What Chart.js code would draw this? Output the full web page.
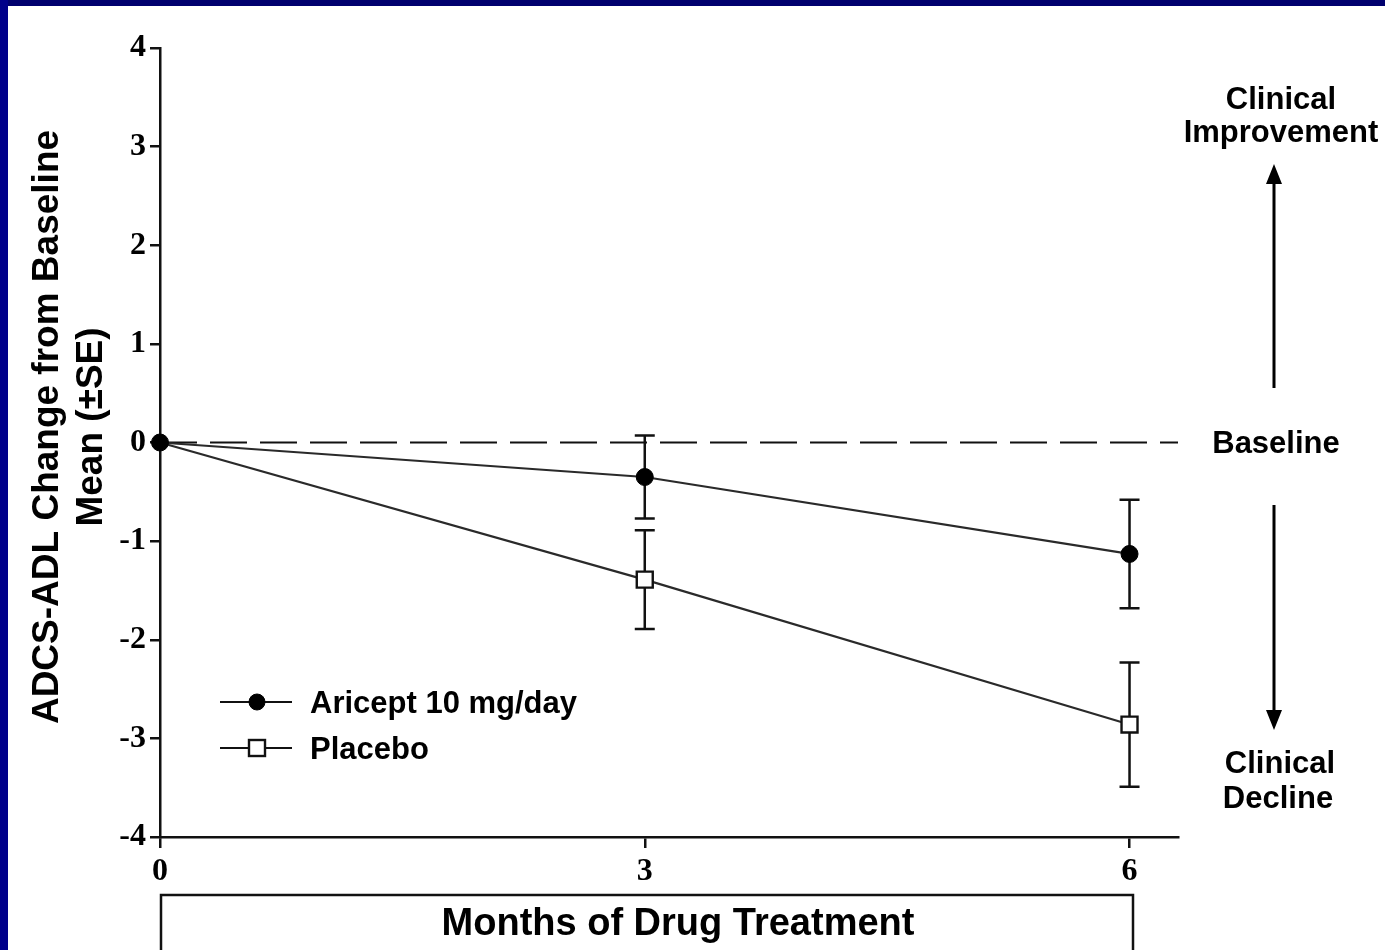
<!DOCTYPE html>
<html>
<head>
<meta charset="utf-8">
<script src="https://cdn.jsdelivr.net/npm/chart.js@4.4.1/dist/chart.umd.min.js"></script>
<style>
  html, body { margin: 0; padding: 0; background: #fff; }
  #wrap { position: relative; width: 1385px; height: 950px; overflow: hidden; background: #fff; }
  #topband { position: absolute; left: 0; top: 0; width: 1385px; height: 6px; background: #00006e; }
  #leftband { position: absolute; left: 0; top: 0; width: 8px; height: 950px; background: #00008a; }
  canvas { position: absolute; left: 0; top: 0; }
</style>
</head>
<body>
<div id="wrap">
  <canvas id="c" width="1385" height="950"></canvas>
  <div id="topband"></div>
  <div id="leftband"></div>
</div>
<script>
// ---- data ----
const months = [0, 3, 6];
const xTickValues = [0, 3, 6];
const yTickMin = -4;
const yTickMax = 4;
const aricept = [0, -0.35, -1.13];
const arieptSE = [0, 0.42, 0.55];
const placebo = [0, -1.39, -2.86];
const placeboSE = [0, 0.50, 0.63];
const seriesNames = ['Aricept 10 mg/day', 'Placebo'];
const yTitle = ['ADCS-ADL Change from Baseline', 'Mean (\u00B1SE)'];
const xTitle = 'Months of Drug Treatment';
const rightLabelsTop = ['Clinical', 'Improvement'];
const rightLabelMid = 'Baseline';
const rightLabelsBottom = ['Clinical', 'Decline'];

const INK = '#000';
const SANS = '"Liberation Sans", Arial, sans-serif';
const SERIF = '"Liberation Serif", "Times New Roman", serif';

function pts(vals) { return months.map((m, i) => ({ x: m, y: vals[i] })); }

const errorBars = {
  id: 'errorBars',
  beforeDatasetsDraw(chart) {
    const ctx = chart.ctx, xs = chart.scales.x, ys = chart.scales.y;
    const sets = [[aricept, arieptSE], [placebo, placeboSE]];
    ctx.save();
    ctx.strokeStyle = '#111';
    ctx.lineWidth = 2.5;
    sets.forEach(([v, se]) => {
      months.forEach((m, i) => {
        if (!se[i]) return;
        const px = xs.getPixelForValue(m);
        const top = ys.getPixelForValue(v[i] + se[i]);
        const bot = ys.getPixelForValue(v[i] - se[i]);
        ctx.beginPath();
        ctx.moveTo(px, top); ctx.lineTo(px, bot);
        ctx.moveTo(px - 10, top); ctx.lineTo(px + 10, top);
        ctx.moveTo(px - 10, bot); ctx.lineTo(px + 10, bot);
        ctx.stroke();
      });
    });
    ctx.restore();
  }
};

const annotations = {
  id: 'annotations',
  afterDraw(chart) {
    const ctx = chart.ctx, ys = chart.scales.y;
    ctx.save();
    ctx.fillStyle = INK;
    // y title
    ctx.save();
    ctx.translate(48, 427);
    ctx.rotate(-Math.PI / 2);
    ctx.font = 'bold 37px ' + SANS;
    ctx.textAlign = 'center';
    ctx.textBaseline = 'middle';
    ctx.fillText(yTitle[0], 0, 0);
    ctx.fillText(yTitle[1], 0, 44);
    ctx.restore();

    // right labels
    ctx.font = 'bold 31px ' + SANS;
    ctx.textAlign = 'center';
    ctx.textBaseline = 'middle';
    ctx.fillText(rightLabelsTop[0], 1281, 100);
    ctx.fillText(rightLabelsTop[1], 1281, 133);
    ctx.fillText(rightLabelMid, 1276, ys.getPixelForValue(0) + 2);
    ctx.fillText(rightLabelsBottom[0], 1280, 764);
    ctx.fillText(rightLabelsBottom[1], 1278, 799);

    // arrows
    ctx.strokeStyle = INK;
    ctx.lineWidth = 3;
    const ax = 1274;
    ctx.beginPath();
    ctx.moveTo(ax, 388); ctx.lineTo(ax, 180);
    ctx.moveTo(ax, 505); ctx.lineTo(ax, 714);
    ctx.stroke();
    ctx.beginPath();
    ctx.moveTo(ax, 164); ctx.lineTo(ax - 8, 184); ctx.lineTo(ax + 8, 184); ctx.closePath();
    ctx.moveTo(ax, 730); ctx.lineTo(ax - 8, 710); ctx.lineTo(ax + 8, 710); ctx.closePath();
    ctx.fill();

    // x title box
    ctx.lineWidth = 2.5;
    ctx.strokeStyle = '#111';
    ctx.strokeRect(161, 895, 972, 70);
    ctx.font = 'bold 38px ' + SANS;
    ctx.fillText(xTitle, 678, 925);

    // legend
    const ds = chart.data.datasets;
    const rows = [702, 748];
    [0, 1].forEach(i => {
      const d = ds[i];
      const y = rows[i];
      ctx.strokeStyle = '#111';
      ctx.lineWidth = 2.2;
      ctx.beginPath(); ctx.moveTo(220, y); ctx.lineTo(292, y); ctx.stroke();
      ctx.fillStyle = d.pointBackgroundColor;
      ctx.strokeStyle = d.pointBorderColor;
      ctx.lineWidth = d.pointBorderWidth;
      if (d.pointStyle === 'circle') {
        ctx.beginPath(); ctx.arc(257, y, 8, 0, Math.PI * 2); ctx.fill(); ctx.stroke();
      } else {
        const r = 8;
        ctx.fillRect(257 - r, y - r, 2 * r, 2 * r);
        ctx.strokeRect(257 - r, y - r, 2 * r, 2 * r);
      }
      ctx.fillStyle = INK;
      ctx.font = 'bold 31px ' + SANS;
      ctx.textAlign = 'left';
      ctx.fillText(seriesNames[i], 310, y + 2);
    });
    ctx.restore();
  }
};

new Chart(document.getElementById('c'), {
  type: 'line',
  data: {
    datasets: [
      {
        label: seriesNames[0], data: pts(aricept),
        borderColor: '#2a2a2a', borderWidth: 2.2,
        pointStyle: 'circle', pointRadius: 8.5, pointBackgroundColor: '#000',
        pointBorderColor: '#000', pointBorderWidth: 1, clip: false, order: 1
      },
      {
        label: seriesNames[1], data: pts(placebo),
        borderColor: '#2a2a2a', borderWidth: 2.2,
        pointStyle: 'rect', pointRadius: [0, 11.3, 11.3], pointBackgroundColor: '#fff',
        pointBorderColor: '#111', pointBorderWidth: 2.4, clip: false, order: 2
      },
      {
        label: 'baseline', data: [{ x: 0, y: 0 }, { x: 6.3, y: 0 }],
        borderColor: '#111', borderWidth: 2.2, borderDash: [37, 13],
        pointRadius: 0, clip: false, order: 3
      }
    ]
  },
  options: {
    responsive: false,
    animation: false,
    devicePixelRatio: 1,
    layout: { padding: { left: 0, top: 48, right: 207, bottom: 0 } },
    plugins: { legend: { display: false }, tooltip: { enabled: false } },
    elements: { line: { tension: 0 } },
    scales: {
      x: {
        type: 'linear', min: 0, max: 6.3,
        afterBuildTicks: s => { s.ticks = xTickValues.map(v => ({ value: v })); },
        afterFit: s => { s.height = 113; },
        grid: { drawOnChartArea: false, drawTicks: true, tickLength: 11, color: '#111', lineWidth: 2.5 },
        border: { display: true, color: '#111', width: 2.5 },
        ticks: { color: INK, padding: 5, font: { family: SERIF, weight: 'bold', size: 32 }, maxRotation: 0 }
      },
      y: {
        type: 'linear', min: yTickMin, max: yTickMax,
        afterFit: s => { s.width = 160; },
        grid: { drawOnChartArea: false, drawTicks: true, tickLength: 10, color: '#111', lineWidth: 2.5 },
        border: { display: true, color: '#111', width: 2.5 },
        ticks: { stepSize: 1, color: INK, padding: 4, font: { family: SERIF, weight: 'bold', size: 32 } }
      }
    }
  },
  plugins: [errorBars, annotations]
});
</script>
</body>
</html>
